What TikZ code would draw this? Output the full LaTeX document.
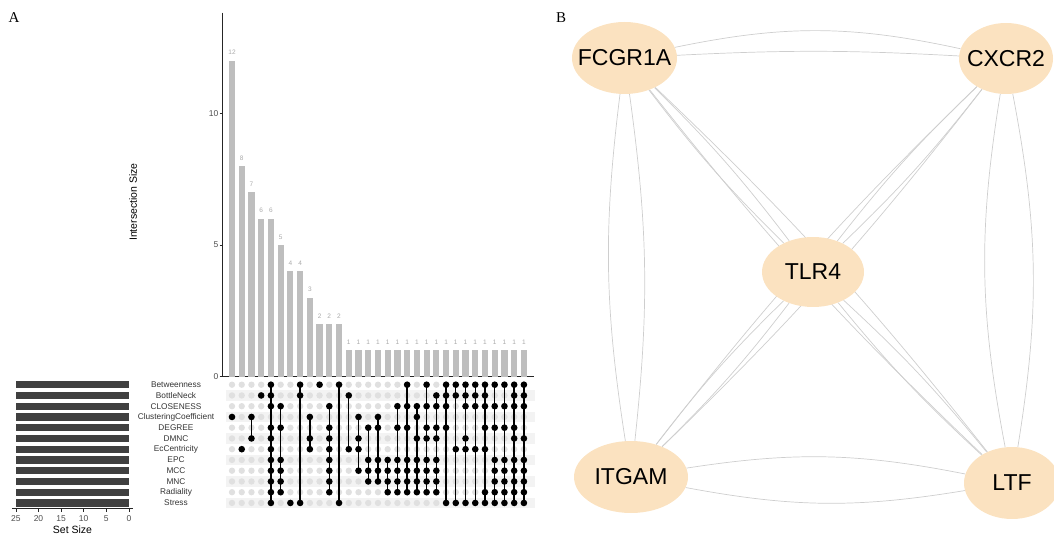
\documentclass[tikz,border=0pt]{standalone}
\usepackage{fontspec}
\setmainfont{Liberation Serif}
\setsansfont{Liberation Sans}
\usetikzlibrary{shapes.geometric,backgrounds}

\definecolor{barfill}{RGB}{190,190,190}
\definecolor{cntcol}{RGB}{170,170,170}
\definecolor{emptydot}{RGB}{224,224,224}
\definecolor{stripe}{RGB}{243,243,243}
\definecolor{setbar}{RGB}{64,64,64}
\definecolor{axistext}{RGB}{77,77,77}
\definecolor{peach}{RGB}{251,226,192}
\definecolor{edgecol}{RGB}{206,206,206}

% geometry of the intersection chart (units are pt, y grows downwards)
\def\colx{232}
\def\coldx{9.73}
\def\rowy{384.7}
\def\rowdy{10.75}
\def\basey{376.7}
\def\unity{26.34}

% one intersection column: index, size, top row, bottom row, member rows
\newcommand\upcol[5]{%
  \pgfmathsetmacro\ucx{\colx+(#1-1)*\coldx}%
  \pgfmathsetmacro\ubt{\basey-#2*\unity}%
  \fill[barfill] ({\ucx-3.1},\basey) rectangle ({\ucx+3.1},\ubt);
  \node[cnt] (cnt#1) at (\ucx,{\ubt-8}) {#2};
  \ifnum#3<#4
    \draw[memline] (\ucx,{\rowy+(#3-1)*\rowdy}) -- (\ucx,{\rowy+(#4-1)*\rowdy});
  \fi
  \foreach \r in {#5} \fill (\ucx,{\rowy+(\r-1)*\rowdy}) circle (3.3pt);
}

\begin{document}
\begin{tikzpicture}[x=1pt,y=-1pt,
  cnt/.style={font=\sffamily\fontsize{6.5}{7}\selectfont, text=cntcol, inner sep=0pt},
  rowlab/.style={font=\sffamily\fontsize{8.3}{9}\selectfont, text=black!80, inner sep=0pt},
  ticklab/.style={font=\sffamily\fontsize{8.5}{9}\selectfont, text=axistext, inner sep=0pt},
  axtitle/.style={font=\sffamily\fontsize{10.5}{12}\selectfont, inner sep=0pt},
  axisline/.style={draw=black!85, line width=0.6pt},
  memline/.style={line width=1.4pt, black},
  gene/.style={ellipse, fill=peach, inner sep=0pt},
  genetext/.style={font=\sffamily\fontsize{23}{26}\selectfont, inner sep=0pt},
  ppi/.style={draw=edgecol, line width=0.7pt},
  panel/.style={font=\fontsize{15}{16}\selectfont, inner sep=0pt}]
\useasboundingbox (0,0) rectangle (1054,534);

% ---------- panel A ----------
\node[panel] (labA) at (14,18) {A};

% row stripes and empty dots
\foreach \r in {2,4,...,12}
  \fill[stripe] (226,{\rowy+(\r-1)*\rowdy-5.37}) rectangle (535,{\rowy+(\r-1)*\rowdy+5.37});
\foreach \c in {1,...,31}
  \foreach \r in {1,...,12}
    \fill[emptydot] ({\colx+(\c-1)*\coldx},{\rowy+(\r-1)*\rowdy}) circle (3.2pt);

% set names and set sizes
\foreach \s [count=\r] in {Betweenness,BottleNeck,CLOSENESS,ClusteringCoefficient,DEGREE,DMNC,EcCentricity,EPC,MCC,MNC,Radiality,Stress} {
  \node[rowlab] (set\r) at (176,{\rowy+(\r-1)*\rowdy}) {\s};
  \fill[setbar] (16,{\rowy+(\r-1)*\rowdy-3.7}) rectangle (129,{\rowy+(\r-1)*\rowdy+3.7});
}

% set size axis
\draw[axisline] (12,508.5) -- (133,508.5);
\foreach \v in {0,5,...,25} {
  \draw[axisline] ({128.9-\v*4.52},508.5) -- ({128.9-\v*4.52},511.5);
  \node[ticklab] (ss\v) at ({128.9-\v*4.52},518.5) {\v};
}
\node[axtitle] (sstitle) at (72.5,529.5) {Set Size};

% intersection size axis
\draw[axisline] (222.7,12.7) -- (222.7,\basey) -- (534,\basey);
\foreach \v in {0,5,10} {
  \draw[axisline] (219.7,{\basey-\v*\unity}) -- (222.7,{\basey-\v*\unity});
  \node[ticklab, anchor=east] (is\v) at (218.5,{\basey-\v*\unity}) {\v};
}
\node[axtitle, rotate=90] (istitle) at (133,202) {Intersection Size};

% intersection columns
\upcol{1}{12}{4}{4}{4}
\upcol{2}{8}{7}{7}{7}
\upcol{3}{7}{4}{6}{4,6}
\upcol{4}{6}{2}{2}{2}
\upcol{5}{6}{1}{12}{1,2,3,5,6,7,8,9,10,11,12}
\upcol{6}{5}{3}{11}{3,5,8,9,10,11}
\upcol{7}{4}{12}{12}{12}
\upcol{8}{4}{1}{12}{1,2,12}
\upcol{9}{3}{4}{7}{4,6,7}
\upcol{10}{2}{1}{1}{1}
\upcol{11}{2}{3}{11}{3,5,6,7,8,9,10,11}
\upcol{12}{2}{1}{12}{1,12}
\upcol{13}{1}{2}{7}{2,7}
\upcol{14}{1}{4}{9}{4,6,7,9}
\upcol{15}{1}{5}{10}{5,8,9,10}
\upcol{16}{1}{4}{10}{4,5,8,9,10}
\upcol{17}{1}{8}{11}{8,9,10,11}
\upcol{18}{1}{3}{11}{3,5,8,9,10,11}
\upcol{19}{1}{1}{11}{1,3,5,8,9,10,11}
\upcol{20}{1}{3}{11}{3,4,6,8,9,10,11}
\upcol{21}{1}{1}{11}{1,3,5,6,8,9,10,11}
\upcol{22}{1}{2}{11}{2,3,5,6,8,9,10,11}
\upcol{23}{1}{1}{12}{1,2,3,5,12}
\upcol{24}{1}{1}{12}{1,2,7,12}
\upcol{25}{1}{1}{12}{1,2,3,6,7,12}
\upcol{26}{1}{1}{12}{1,2,3,7,12}
\upcol{27}{1}{1}{12}{1,2,3,5,7,11,12}
\upcol{28}{1}{1}{12}{1,3,5,8,9,10,11,12}
\upcol{29}{1}{1}{12}{1,3,5,8,9,10,11,12}
\upcol{30}{1}{1}{12}{1,2,3,5,6,8,9,10,11,12}
\upcol{31}{1}{1}{12}{1,2,3,6,8,9,10,11,12}

% ---------- panel B ----------
\node[panel] (labB) at (561,18) {B};

\node[gene, minimum width=105pt, minimum height=72pt, label={[genetext]center:FCGR1A}] (F) at (624.5,58) {};
\node[gene, minimum width=94pt, minimum height=71pt, label={[genetext]center:CXCR2}] (C) at (1006,58.5) {};
\node[gene, minimum width=102pt, minimum height=70pt, label={[genetext]center:TLR4}] (T) at (813,272) {};
\node[gene, minimum width=114pt, minimum height=72pt, label={[genetext]center:ITGAM}] (I) at (631,477) {};
\node[gene, minimum width=96pt, minimum height=72pt, label={[genetext]center:LTF}] (L) at (1012,483) {};

\begin{scope}[on background layer]
  % outer frame of double interactions
  \draw[ppi] (F) to[bend left=12] (C);
  \draw[ppi] (F) to[bend left=3] (C);
  \draw[ppi] (F) to[bend right=8] (I);
  \draw[ppi] (F) to[bend left=7] (I);
  \draw[ppi] (C) to[bend right=10] (L);
  \draw[ppi] (C) to[bend left=10] (L);
  \draw[ppi] (I) to[bend left=10] (L);
  \draw[ppi] (I) to[bend right=10] (L);
  % links through the centre
  \foreach \a/\b in {F/T,C/T,I/T,L/T,F/L,C/I} {
    \draw[ppi] (\a) to[bend left=4] (\b);
    \draw[ppi] (\a) to[bend right=4] (\b);
  }
\end{scope}
\end{tikzpicture}
\end{document}
